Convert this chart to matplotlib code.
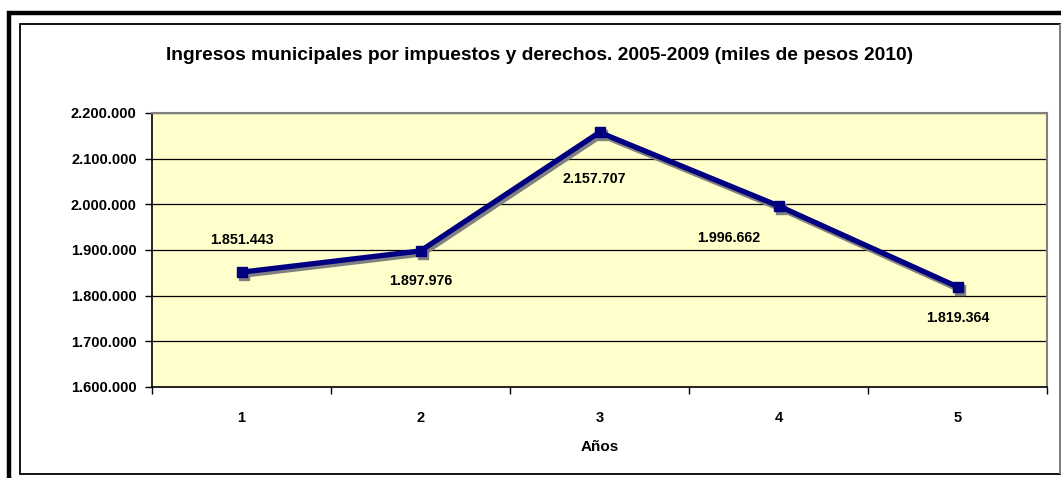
import matplotlib
matplotlib.use("Agg")
import matplotlib.pyplot as plt
from matplotlib.patches import Rectangle
from matplotlib.transforms import ScaledTranslation
from matplotlib.ticker import FuncFormatter, MultipleLocator, FixedLocator

plt.rcParams['font.family'] = ['Liberation Sans', 'DejaVu Sans']
plt.rcParams['font.weight'] = 'bold'

# ingresos por año (miles de pesos 2010)
anios = ['1', '2', '3', '4', '5']
ingresos = [1851443, 1897976, 2157707, 1996662, 1819364]
# desplazamiento de cada etiqueta en pixeles
label_off = [(0, 32), (0, -30), (-5, -47), (-50, -32), (0, -31)]


def miles(v, pos=None):
    return '{:,.0f}'.format(v).replace(',', '.')


fig = plt.figure(figsize=(10.61, 4.78), dpi=100)
W, H = 1061, 478

# marco exterior grueso (sale del borde) y marco interior
fig.patches.append(Rectangle((8.5 / W, -20 / H), 1100 / W, (H + 20 - 13.5) / H, transform=fig.transFigure,
                             fill=False, edgecolor='black', linewidth=3.2))
fig.patches.append(Rectangle((20 / W, 4 / H), 1040 / W, 450 / H, transform=fig.transFigure,
                             fill=False, edgecolor='black', linewidth=1.3))
fig.patches.append(Rectangle((1059 / W, 4 / H), 1.5 / W, 450 / H, transform=fig.transFigure,
                             color='#808080', linewidth=0))

ax = fig.add_axes([152 / W, 1 - 387 / H, 895 / W, 274 / H])
ax.set_facecolor('#FFFFCC')

x = list(range(len(anios)))
sombra = ax.transData + ScaledTranslation(2 / 100, -3 / 100, fig.dpi_scale_trans)
ax.plot(x, ingresos, color='#808080', linewidth=3.8, marker='s', markersize=7,
        markeredgecolor='#808080', transform=sombra, zorder=2)
ax.plot(x, ingresos, color='#000080', linewidth=3.8, marker='s', markersize=7,
        markerfacecolor='#000080', markeredgecolor='#000080', zorder=3)

for xi, v, off in zip(x, ingresos, label_off):
    ax.annotate(miles(v), (xi, v), xytext=off, textcoords='offset pixels',
                ha='center', va='center', fontsize=10.3, fontweight='bold', zorder=4)

ax.set_xlim(-0.5, len(anios) - 0.5)
ax.set_ylim(1600000, 2200000)
ax.yaxis.set_major_locator(MultipleLocator(100000))
ax.yaxis.set_major_formatter(FuncFormatter(miles))
ax.grid(axis='y', color='black', linewidth=0.9)
ax.set_axisbelow(True)

ax.xaxis.set_major_locator(FixedLocator([i - 0.5 for i in range(len(anios) + 1)]))
ax.xaxis.set_major_formatter(FuncFormatter(lambda v, p: ''))
ax.xaxis.set_minor_locator(FixedLocator(x))
ax.set_xticklabels(anios, minor=True)
ax.tick_params(axis='x', which='major', direction='out', length=5, width=1, color='black')
ax.tick_params(axis='x', which='minor', length=0, pad=17, labelsize=10.5)
ax.tick_params(axis='y', direction='out', length=5, width=1, pad=6, labelsize=10.5)

for s in ['top', 'right']:
    ax.spines[s].set_color('#808080')
    ax.spines[s].set_linewidth(1.5)
for s in ['left', 'bottom']:
    ax.spines[s].set_color('black')
    ax.spines[s].set_linewidth(1.2)

ax.set_xlabel('Años', fontsize=11, fontweight='bold', labelpad=11)
fig.text(540 / W, 1 - 56 / H,
         'Ingresos municipales por impuestos y derechos. 2005-2009 (miles de pesos 2010)',
         ha='center', va='center', fontsize=13.9, fontweight='bold')

fig.savefig('out.png', dpi=100)
